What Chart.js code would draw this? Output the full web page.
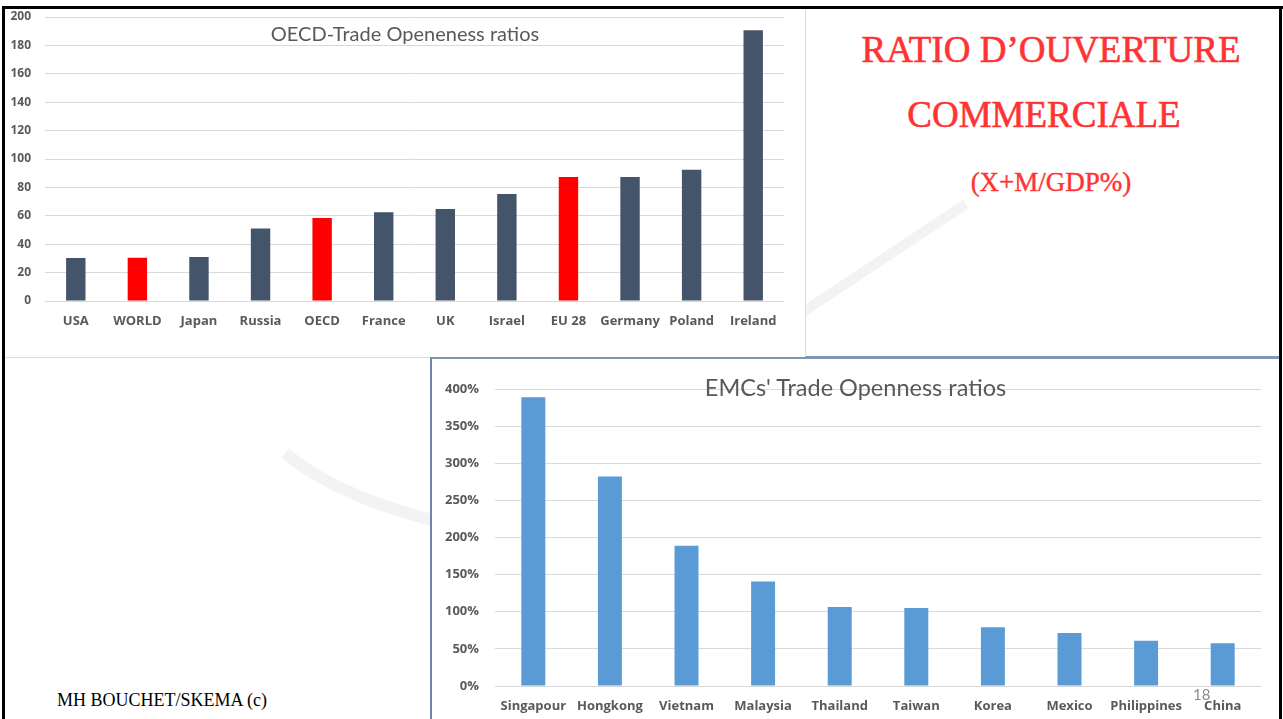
<!DOCTYPE html>
<html lang="fr">
<head>
    <meta charset="UTF-8">
    <title>Ratio d'ouverture commerciale</title>
    <script src="https://cdn.jsdelivr.net/npm/chart.js"></script>
    <style>
        body {
            margin: 0;
            width: 1283px;
            height: 719px;
            position: relative;
            overflow: hidden;
            background: #fff;
            font-family: Lato, "Open Sans", sans-serif;
        }
        .abs { position: absolute; }
        #watermark { left: 0; top: 0; }
        #frameTop { left: 2px; top: 6px; width: 1281px; height: 3px; background: #000; }
        #frameLeft { left: 2px; top: 6px; width: 3px; height: 713px; background: #000; }
        #frameRight { left: 1279px; top: 6px; width: 3px; height: 713px; background: #000; }
        #oecdBox { left: 5px; top: 9px; width: 800px; height: 348px; background: #fff; border-bottom: 1px solid #dcdcdc; }
        #headBox { left: 805px; top: 9px; width: 474px; height: 347px; border-left: 1px solid #dcdcdc; border-bottom: 2px solid #7f95b3; }
        #emcBox { left: 430px; top: 357px; width: 849px; height: 362px; background: #fff; border-top: 2px solid #7f95b3; border-left: 2px solid #6f86a8; }
        #oecdBox canvas, #emcBox canvas { display: block; }
        .chartTitle { color: #595959; text-align: center; white-space: nowrap; }
        #oecdTitle { left: 5px; top: 22px; width: 800px; font-size: 20px; line-height: 22px; }
        #emcTitle { left: 432px; top: 375px; width: 847px; font-size: 23.5px; line-height: 24px; }
        .headline {
            font-family: "Liberation Serif", "DejaVu Serif", serif;
            color: #ff3333;
            -webkit-text-stroke: 0.6px #ff3333;
            text-align: center;
            white-space: nowrap;
            left: 851px;
            width: 400px;
        }
        #head1 { top: 31px; font-size: 37px; line-height: 37px; }
        #head2 { top: 96px; font-size: 37px; line-height: 37px; left: 844px; }
        #head3 { top: 169px; font-size: 27px; line-height: 27px; -webkit-text-stroke: 0.4px #ff3333; }
        #credit { left: 57px; top: 691px; font-family: "Liberation Serif", serif; font-size: 18px; line-height: 18px; color: #000; }
        #pageNo { left: 1193px; top: 687px; font-size: 15px; line-height: 15px; color: #8c8c8c; }
    </style>
</head>
<body>
    <svg id="watermark" class="abs" width="1283" height="719">
        <path d="M 285 453 Q 335 495 432 520" stroke="#f3f3f3" stroke-width="12" fill="none"/>
        <path d="M 800 314 L 966 204" stroke="#f3f3f3" stroke-width="10" fill="none"/>
    </svg>

    <div id="oecdBox" class="abs"><canvas id="oecdChart" width="800" height="348"></canvas></div>
    <div id="headBox" class="abs"></div>
    <div id="emcBox" class="abs"><canvas id="emcChart" width="847" height="360"></canvas></div>

    <div id="frameTop" class="abs"></div>
    <div id="frameLeft" class="abs"></div>
    <div id="frameRight" class="abs"></div>

    <div id="oecdTitle" class="abs chartTitle">OECD-Trade Openeness ratios</div>
    <div id="emcTitle" class="abs chartTitle">EMCs' Trade Openness ratios</div>

    <div id="head1" class="abs headline">RATIO D’OUVERTURE</div>
    <div id="head2" class="abs headline">COMMERCIALE</div>
    <div id="head3" class="abs headline">(X+M/GDP%)</div>

    <div id="credit" class="abs">MH BOUCHET/SKEMA (c)</div>
    <div id="pageNo" class="abs">18</div>

    <script>
        // OECD : ratio (X+M)/PIB en %
        const oecdCountries = ['USA', 'WORLD', 'Japan', 'Russia', 'OECD', 'France', 'UK', 'Israel', 'EU 28', 'Germany', 'Poland', 'Ireland'];
        const oecdRatios = [30.3, 30.5, 31, 51, 58.5, 62.5, 64.8, 75.4, 87.3, 87.3, 92.5, 190.6];
        const oecdAggregates = ['WORLD', 'OECD', 'EU 28'];
        const oecdTicks = [0, 20, 40, 60, 80, 100, 120, 140, 160, 180, 200];

        // pays émergents
        const emcCountries = ['Singapour', 'Hongkong', 'Vietnam', 'Malaysia', 'Thailand', 'Taiwan', 'Korea', 'Mexico', 'Philippines', 'China'];
        const emcRatios = [389, 282, 189, 140.6, 106.5, 105, 79, 71.5, 61, 57.5];
        const emcTicks = [0, 50, 100, 150, 200, 250, 300, 350, 400];

        const axisFont = size => ({ family: 'Open Sans', weight: 'bold', size: size });
        const gridColor = '#d9d9d9';

        function fixedTicks(list) {
            return scale => { scale.ticks = list.map(v => ({ value: v })); };
        }
        // keep the tick padding from pushing the plot area down
        function fixedWidth(w) {
            return scale => { scale.width = w; scale.paddingTop = 0; scale.paddingBottom = 0; };
        }

        new Chart(document.getElementById('oecdChart'), {
            type: 'bar',
            data: {
                labels: oecdCountries,
                datasets: [{
                    data: oecdRatios,
                    backgroundColor: ctx => oecdAggregates.includes(oecdCountries[ctx.dataIndex]) ? '#ff0000' : '#44546a',
                    barPercentage: 0.315,
                    categoryPercentage: 1
                }]
            },
            options: {
                responsive: false,
                animation: false,
                layout: { padding: { top: 8, right: 21, left: 0, bottom: 0 } },
                plugins: { legend: { display: false }, tooltip: { enabled: false } },
                scales: {
                    x: {
                        grid: { display: false, drawTicks: false },
                        border: { display: false },
                        ticks: { color: '#595959', font: axisFont(13), padding: 12, maxRotation: 0, autoSkip: false },
                        afterFit: s => { s.height = 56; }
                    },
                    y: {
                        min: 0,
                        max: 200,
                        afterBuildTicks: fixedTicks(oecdTicks),
                        grid: { color: gridColor, drawTicks: false },
                        border: { display: false },
                        ticks: { color: '#595959', font: axisFont(12), padding: 14 },
                        afterFit: fixedWidth(40)
                    }
                }
            }
        });

        new Chart(document.getElementById('emcChart'), {
            type: 'bar',
            data: {
                labels: emcCountries,
                datasets: [{
                    data: emcRatios,
                    backgroundColor: '#5b9bd5',
                    barPercentage: 0.313,
                    categoryPercentage: 1
                }]
            },
            options: {
                responsive: false,
                animation: false,
                layout: { padding: { top: 30, right: 18, left: 0, bottom: 0 } },
                plugins: { legend: { display: false }, tooltip: { enabled: false } },
                scales: {
                    x: {
                        grid: { display: false, drawTicks: false },
                        border: { display: false },
                        ticks: { color: '#595959', font: axisFont(13), padding: 12, maxRotation: 0, autoSkip: false },
                        afterFit: s => { s.height = 33; }
                    },
                    y: {
                        min: 0,
                        max: 400,
                        afterBuildTicks: fixedTicks(emcTicks),
                        grid: { color: gridColor, drawTicks: false },
                        border: { display: false },
                        ticks: { color: '#595959', font: axisFont(13), padding: 16, callback: v => v + '%' },
                        afterFit: fixedWidth(63)
                    }
                }
            }
        });
    </script>
</body>
</html>
